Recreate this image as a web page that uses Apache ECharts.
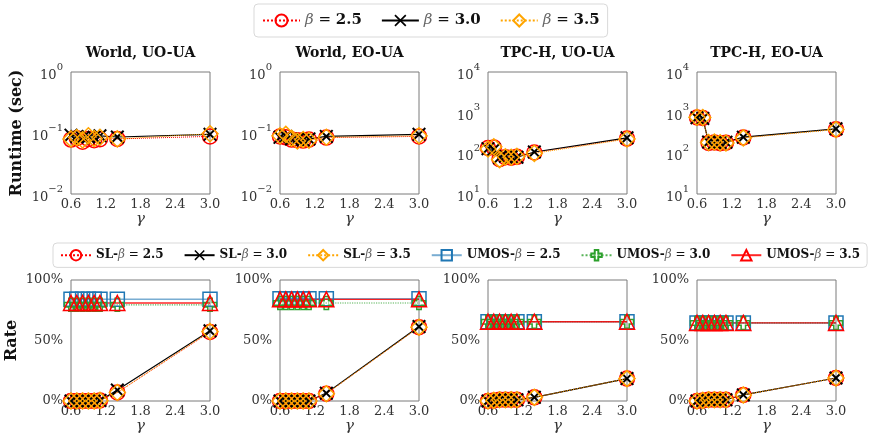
<!DOCTYPE html>
<html><head><meta charset="utf-8">
<script src="https://cdn.jsdelivr.net/npm/echarts@6/dist/echarts.min.js"></script>
<style>html,body{margin:0;padding:0;background:#fff}#c{width:872px;height:438px}</style>
</head><body><div id="c"></div>
<script>
// ---------- data ----------
const gammas = [0.6, 0.7, 0.8, 0.9, 1.0, 1.1, 1.4, 3.0];
const panelTitles = ['World, UO-UA', 'World, EO-UA', 'TPC-H, UO-UA', 'TPC-H, EO-UA'];
const betaLabels = ['2.5', '3.0', '3.5'];

// Runtime (sec)
const rtWorldUO_b25 = [0.078, 0.082, 0.072, 0.080, 0.076, 0.079, 0.080, 0.088];
const rtWorldUO_b30 = [0.092, 0.088, 0.083, 0.086, 0.085, 0.090, 0.086, 0.095];
const rtWorldUO_b35 = [0.080, 0.084, 0.077, 0.090, 0.081, 0.085, 0.080, 0.097];
const rtWorldEO_b25 = [0.088, 0.085, 0.078, 0.076, 0.075, 0.078, 0.084, 0.088];
const rtWorldEO_b30 = [0.085, 0.088, 0.080, 0.078, 0.077, 0.080, 0.088, 0.095];
const rtWorldEO_b35 = [0.090, 0.095, 0.082, 0.074, 0.078, 0.076, 0.085, 0.090];
const rtTpchUO_b25 = [135, 140, 72, 80, 78, 82, 105, 230];
const rtTpchUO_b30 = [130, 125, 78, 85, 82, 80, 108, 240];
const rtTpchUO_b35 = [128, 145, 70, 82, 80, 84, 100, 225];
const rtTpchEO_b25 = [760, 740, 180, 185, 178, 182, 245, 390];
const rtTpchEO_b30 = [750, 720, 190, 180, 185, 188, 250, 400];
const rtTpchEO_b35 = [770, 760, 185, 190, 182, 180, 240, 385];

// Rate (%)
const slWorldUO_b25 = [0, 0, 0, 0, 0, 0.5, 7, 57];
const slWorldUO_b30 = [0, 0, 0, 0.3, 0, 0.5, 9, 58];
const slWorldUO_b35 = [0, 0, 0, 0, 0, 0.5, 7, 57.5];
const umosWorldUO_b25 = [84, 84, 84, 84, 84, 84, 84, 84];
const umosWorldUO_b30 = [79.5, 79.5, 79.5, 79.5, 79.5, 79.5, 79.5, 79.5];
const umosWorldUO_b35 = [81, 81, 81, 81, 81, 81, 81, 81];

const slWorldEO_b25 = [0, 0, 0, 0, 0, 0, 6, 61];
const slWorldEO_b30 = [0, 0, 0, 0, 0, 0, 6.5, 61.5];
const slWorldEO_b35 = [0, 0, 0, 0, 0, 0, 6, 61];
const umosWorldEO_b25 = [84.5, 84.5, 84.5, 84.5, 84.5, 84.5, 84.5, 84.5];
const umosWorldEO_b30 = [81, 81, 81, 81, 81, 81, 81, 81];
const umosWorldEO_b35 = [84, 84, 84, 84, 84, 84, 84, 84];

const slTpchUO_b25 = [0, 0.5, 1, 1, 1, 1, 3, 18.5];
const slTpchUO_b30 = [0, 0.5, 1, 1, 1, 1, 3, 18.5];
const slTpchUO_b35 = [0, 0.5, 1, 1, 1, 1, 3, 18.5];
const umosTpchUO_b25 = [65.5, 65.5, 65.5, 65.5, 65.5, 65.5, 65.5, 65.5];
const umosTpchUO_b30 = [65.5, 65.5, 65.5, 65.5, 65.5, 65.5, 65.5, 65.5];
const umosTpchUO_b35 = [65.5, 65.5, 65.5, 65.5, 65.5, 65.5, 65.5, 65.5];

const slTpchEO_b25 = [0, 0.5, 1, 1, 1, 1, 5, 19];
const slTpchEO_b30 = [0, 0.5, 1, 1, 1, 1, 5, 19];
const slTpchEO_b35 = [0, 0.5, 1, 1, 1, 1, 5, 19];
const umosTpchEO_b25 = [64.5, 64.5, 64.5, 64.5, 64.5, 64.5, 64.5, 64.5];
const umosTpchEO_b30 = [64.5, 64.5, 64.5, 64.5, 64.5, 64.5, 64.5, 64.5];
const umosTpchEO_b35 = [64.5, 64.5, 64.5, 64.5, 64.5, 64.5, 64.5, 64.5];

const runtimePanels = [
  [rtWorldUO_b25, rtWorldUO_b30, rtWorldUO_b35],
  [rtWorldEO_b25, rtWorldEO_b30, rtWorldEO_b35],
  [rtTpchUO_b25, rtTpchUO_b30, rtTpchUO_b35],
  [rtTpchEO_b25, rtTpchEO_b30, rtTpchEO_b35]
];
const ratePanels = [
  [slWorldUO_b25, slWorldUO_b30, slWorldUO_b35, umosWorldUO_b25, umosWorldUO_b30, umosWorldUO_b35],
  [slWorldEO_b25, slWorldEO_b30, slWorldEO_b35, umosWorldEO_b25, umosWorldEO_b30, umosWorldEO_b35],
  [slTpchUO_b25, slTpchUO_b30, slTpchUO_b35, umosTpchUO_b25, umosTpchUO_b30, umosTpchUO_b35],
  [slTpchEO_b25, slTpchEO_b30, slTpchEO_b35, umosTpchEO_b25, umosTpchEO_b30, umosTpchEO_b35]
];
const runtimeRanges = [[0.01, 1], [0.01, 1], [10, 10000], [10, 10000]];

// ---------- styling ----------
const SERIF = 'DejaVu Serif';
const X_PATH = 'path://M0,0.1 L0.1,0 L0.5,0.4 L0.9,0 L1,0.1 L0.6,0.5 L1,0.9 L0.9,1 L0.5,0.6 L0.1,1 L0,0.9 L0.4,0.5 Z';
const PLUS_PATH = 'path://M0.33,0 L0.67,0 L0.67,0.33 L1,0.33 L1,0.67 L0.67,0.67 L0.67,1 L0.33,1 L0.33,0.67 L0,0.67 L0,0.33 L0.33,0.33 Z';

const slStyles = [
  {color: '#ff0000', symbol: 'circle', type: 'dotted', lw: 1, hollow: true, size: 15},
  {color: '#000000', symbol: X_PATH, type: 'solid', lw: 1.2, hollow: false, size: 14},
  {color: '#ffa500', symbol: 'diamond', type: 'dotted', lw: 1, hollow: true, size: 16}
];
const umosStyles = [
  {color: '#1f77b4', symbol: 'rect', type: 'solid', lw: 1.5, hollow: true, size: 14, opacity: 0.6},
  {color: '#2ca02c', symbol: PLUS_PATH, type: 'dotted', lw: 1.2, hollow: true, size: 13, opacity: 0.8},
  {color: '#ff0000', symbol: 'triangle', type: 'solid', lw: 1.3, hollow: true, size: 15, opacity: 0.85}
];

const colLefts = [71, 280, 488, 697];
const gridW = 139;
const topRow = {top: 72, height: 122};
const botRow = {top: 280, height: 121};

const supMap = {'-': '\u2212', '0': '0', '1': '1', '2': '2', '3': '3', '4': '4'};

function makeSeries(name, st, data, gi) {
  return {
    name: name, type: 'line', xAxisIndex: gi, yAxisIndex: gi,
    data: gammas.map((g, i) => [g, data[i]]),
    symbol: st.symbol, symbolSize: st.size, showSymbol: true, clip: false,
    lineStyle: {color: st.color, width: st.lw, type: st.type, opacity: st.opacity || 1},
    itemStyle: st.hollow
      ? {color: 'rgba(255,255,255,0)', borderColor: st.color, borderWidth: 1.5, opacity: 1}
      : {color: st.color, borderWidth: 0},
    emphasis: {disabled: true}, animation: false
  };
}

const grids = [], xAxes = [], yAxes = [], series = [], graphics = [];
const tickText = {fontFamily: SERIF, fontSize: 13, color: '#333'};

for (let r = 0; r < 2; r++) {
  for (let c = 0; c < 4; c++) {
    const gi = r * 4 + c;
    const row = r === 0 ? topRow : botRow;
    grids.push({left: colLefts[c], top: row.top, width: gridW, height: row.height,
      show: true, borderColor: '#7a7a7a', borderWidth: 1, backgroundColor: 'transparent', containLabel: false});
    xAxes.push({
      type: 'value', gridIndex: gi, min: 0.6, max: 3.0, interval: 0.6,
      axisLine: {show: false}, axisTick: {show: false}, splitLine: {show: false},
      axisLabel: Object.assign({margin: 4, showMinLabel: true, showMaxLabel: true,
        formatter: v => v.toFixed(1)}, tickText),
      name: 'γ', nameLocation: 'middle', nameGap: 17,
      nameTextStyle: {fontFamily: SERIF, fontStyle: 'italic', fontSize: 15, color: '#333'}
    });
    if (r === 0) {
      yAxes.push({
        type: 'log', logBase: 10, gridIndex: gi, min: runtimeRanges[c][0], max: runtimeRanges[c][1],
        axisLine: {show: false}, axisTick: {show: false}, splitLine: {show: false}, minorSplitLine: {show: false},
        axisLabel: {
          margin: 8,
          formatter: v => {
            const e = String(Math.round(Math.log10(v))).split('').map(ch => supMap[ch]).join('');
            return '{b|10}{s|' + e + '}';
          },
          rich: {
            b: {fontFamily: SERIF, fontSize: 13, color: '#333', lineHeight: 20, verticalAlign: 'bottom'},
            s: {fontFamily: SERIF, fontSize: 10, color: '#333', lineHeight: 11, verticalAlign: 'top'}
          }
        },
        name: c === 0 ? 'Runtime (sec)' : '', nameLocation: 'middle', nameGap: 46,
        nameTextStyle: {fontFamily: SERIF, fontWeight: 'bold', fontSize: 16, color: '#111'}
      });
      runtimePanels[c].forEach((arr, k) => series.push(makeSeries('β = ' + betaLabels[k], slStyles[k], arr, gi)));
      graphics.push({type: 'text', x: colLefts[c] + gridW / 2, y: 53, silent: true,
        style: {text: panelTitles[c], font: 'bold 14px "DejaVu Serif"', fill: '#111', textAlign: 'center', textVerticalAlign: 'middle'}});
    } else {
      yAxes.push({
        type: 'value', gridIndex: gi, min: 0, max: 100, interval: 50,
        axisLine: {show: false}, axisTick: {show: false}, splitLine: {show: false},
        axisLabel: Object.assign({margin: 8, formatter: '{value}%'}, tickText),
        name: c === 0 ? 'Rate' : '', nameLocation: 'middle', nameGap: 51,
        nameTextStyle: {fontFamily: SERIF, fontWeight: 'bold', fontSize: 16, color: '#111'}
      });
      ratePanels[c].forEach((arr, k) => {
        const nm = (k < 3 ? 'SL-β = ' : 'UMOS-β = ') + betaLabels[k % 3];
        series.push(makeSeries(nm, k < 3 ? slStyles[k] : umosStyles[k - 3], arr, gi));
      });
    }
  }
}

const legendRich = {
  i: {fontFamily: SERIF, fontStyle: 'italic', color: '#666'},
  b: {fontFamily: SERIF, fontWeight: 'bold', color: '#111'},
  n: {fontFamily: SERIF, color: '#111'}
};
function richFor(size) {
  const o = {};
  for (const k in legendRich) o[k] = Object.assign({fontSize: size}, legendRich[k]);
  return o;
}

const option = {
  backgroundColor: '#fff',
  animation: false,
  grid: grids, xAxis: xAxes, yAxis: yAxes, series: series,
  graphic: graphics,
  legend: [
    {
      data: betaLabels.map(b => 'β = ' + b),
      left: 254, top: 4, orient: 'horizontal',
      itemWidth: 37, itemHeight: 15, itemGap: 19, padding: [9, 8],
      borderColor: '#d9d9d9', borderWidth: 1, borderRadius: 4, backgroundColor: '#fff',
      formatter: name => '{i|β} {n|=} {b|' + name.split('= ')[1] + '}',
      textStyle: {fontFamily: SERIF, fontSize: 15, color: '#111', rich: richFor(15)},
      selectedMode: false
    },
    {
      data: ['SL-β = 2.5', 'SL-β = 3.0', 'SL-β = 3.5', 'UMOS-β = 2.5', 'UMOS-β = 3.0', 'UMOS-β = 3.5'],
      left: 53, top: 243, width: 818, orient: 'horizontal',
      itemWidth: 30, itemHeight: 13, itemGap: 20, padding: [6, 7],
      borderColor: '#d9d9d9', borderWidth: 1, borderRadius: 4, backgroundColor: '#fff',
      formatter: name => {
        const pre = name.split('β')[0];
        return '{b|' + pre + '}{i|β} {n|=} {b|' + name.split('= ')[1] + '}';
      },
      textStyle: {fontFamily: SERIF, fontSize: 12, color: '#111', rich: richFor(12)},
      selectedMode: false
    }
  ]
};

const chart = echarts.init(document.getElementById('c'), null, {renderer: 'canvas'});
chart.setOption(option);
</script>
</body></html>
